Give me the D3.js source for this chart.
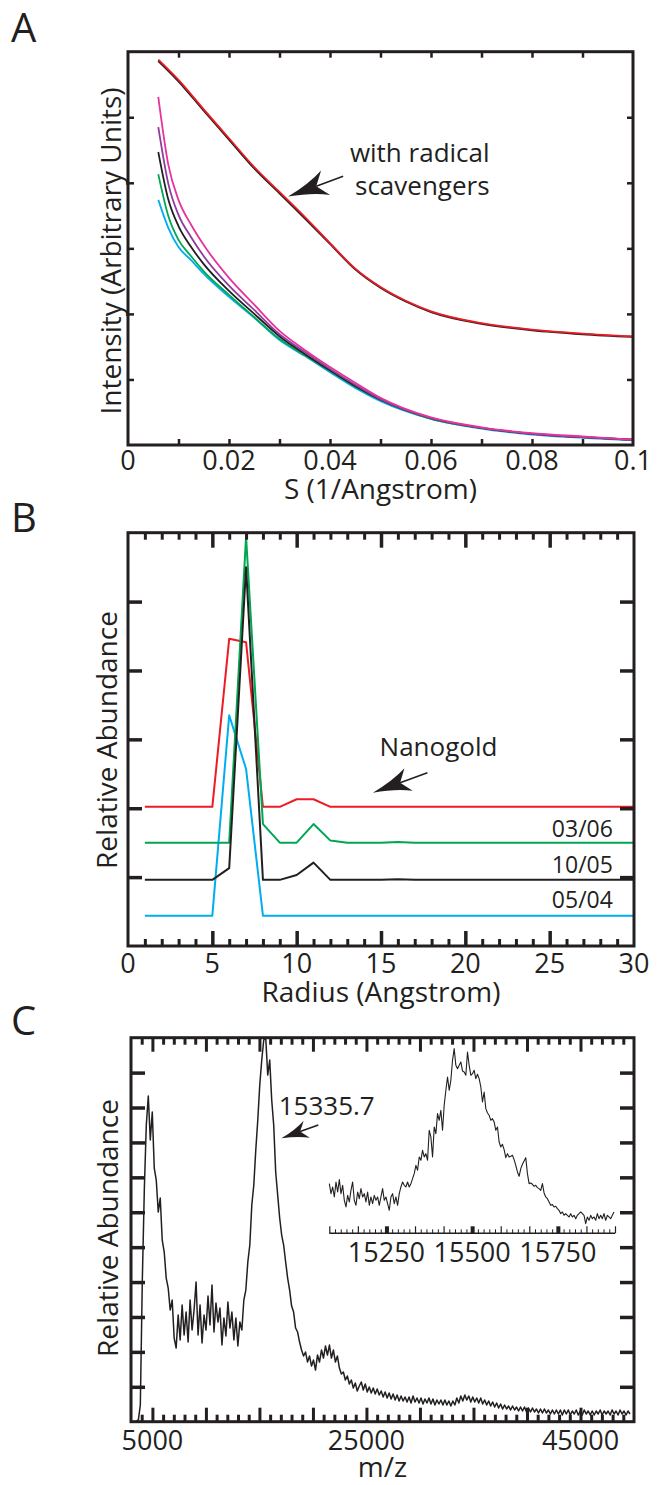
<!DOCTYPE html>
<html>
<head>
<meta charset="utf-8">
<script src="https://cdn.jsdelivr.net/npm/d3@7"></script>
<style>
	body { margin: 0; background: #fff; }
	text { font-family: "Open Sans", sans-serif; fill: #231f20; }
</style>
</head>
<body>
<div id="g-container"></div>
<script>
	// ---- panel A: scattering curves ----
	var sGrid = [0.006, 0.008, 0.01, 0.0125, 0.015, 0.02, 0.025, 0.03, 0.035, 0.04, 0.045, 0.05, 0.06, 0.07, 0.08, 0.09, 0.1]
	var cyanA   = [3.74, 3.31, 3.02, 2.82, 2.61, 2.26, 1.94, 1.60, 1.36, 1.11, 0.87, 0.67, 0.40, 0.25, 0.16, 0.11, 0.07]
	var greenA  = [4.13, 3.49, 3.13, 2.88, 2.65, 2.29, 1.95, 1.62, 1.37, 1.13, 0.89, 0.69, 0.40, 0.26, 0.17, 0.12, 0.08]
	var blackA  = [4.47, 3.74, 3.34, 3.02, 2.76, 2.35, 2.00, 1.66, 1.39, 1.14, 0.90, 0.69, 0.41, 0.26, 0.17, 0.12, 0.08]
	var purpleA = [4.85, 3.98, 3.51, 3.17, 2.88, 2.43, 2.06, 1.69, 1.42, 1.16, 0.92, 0.70, 0.41, 0.26, 0.17, 0.12, 0.08]
	var pinkA   = [5.31, 4.27, 3.74, 3.36, 3.05, 2.55, 2.14, 1.74, 1.45, 1.19, 0.95, 0.72, 0.42, 0.27, 0.18, 0.13, 0.08]

	var sScav = [0.006, 0.01, 0.015, 0.02, 0.025, 0.03, 0.035, 0.04, 0.045, 0.05, 0.055, 0.06, 0.07, 0.08, 0.09, 0.1]
	var scavBlack = [5.86, 5.55, 5.10, 4.66, 4.22, 3.84, 3.46, 3.07, 2.68, 2.40, 2.19, 2.03, 1.85, 1.75, 1.69, 1.65]
	var scavRed   = [5.88, 5.57, 5.12, 4.68, 4.24, 3.86, 3.48, 3.08, 2.69, 2.41, 2.20, 2.04, 1.86, 1.76, 1.70, 1.655]

	var xLabelsA = [0, 0.02, 0.04, 0.06, 0.08, 0.1]

	// ---- panel B: size distributions ----
	var radius = d3.range(1, 31)
	var redB   = [2.02, 2.02, 2.02, 2.02, 2.02, 4.46, 4.41, 2.02, 2.02, 2.13, 2.13, 2.02, 2.02, 2.02, 2.02, 2.02, 2.02, 2.02, 2.02, 2.02, 2.02, 2.02, 2.02, 2.02, 2.02, 2.02, 2.02, 2.02, 2.02, 2.02]
	var greenB = [1.50, 1.50, 1.50, 1.50, 1.50, 1.50, 5.94, 1.77, 1.50, 1.50, 1.77, 1.53, 1.50, 1.50, 1.50, 1.51, 1.50, 1.50, 1.50, 1.50, 1.50, 1.50, 1.50, 1.50, 1.50, 1.50, 1.50, 1.50, 1.50, 1.50]
	var blackB = [0.96, 0.96, 0.96, 0.96, 0.96, 1.13, 5.50, 0.96, 0.96, 1.03, 1.21, 0.96, 0.96, 0.96, 0.96, 0.97, 0.96, 0.96, 0.96, 0.96, 0.96, 0.96, 0.96, 0.96, 0.96, 0.96, 0.96, 0.96, 0.96, 0.96]
	var cyanB  = [0.44, 0.44, 0.44, 0.44, 0.44, 3.35, 2.57, 0.44, 0.44, 0.44, 0.44, 0.44, 0.44, 0.44, 0.44, 0.44, 0.44, 0.44, 0.44, 0.44, 0.44, 0.44, 0.44, 0.44, 0.44, 0.44, 0.44, 0.44, 0.44, 0.44]
	var xLabelsB = [0, 5, 10, 15, 20, 25, 30]
	var datesB = [["03/06", 1.587], ["10/05", 1.064], ["05/04", 0.547]]

	// ---- panel C: mass spectrum ----
	var mzStart = 3500, mzStep = 186
	var mainI = [2, 5, 50, 425, 695, 890, 977, 845, 929, 761,
		725, 629, 671, 545, 509, 431, 401, 335, 365, 251,
		221, 320, 245, 350, 260, 329, 239, 365, 275, 335,
		419, 260, 350, 236, 320, 275, 377, 290, 410, 269,
		356, 299, 341, 230, 311, 257, 359, 281, 329, 245,
		311, 227, 299, 275, 365, 395, 479, 530, 650, 710,
		815, 905, 1010, 1085, 1145, 1151, 1040, 1085, 965, 890,
		749, 680, 611, 560, 530, 479, 431, 395, 347, 329,
		281, 269, 239, 215, 197, 209, 179, 197, 167, 185,
		155, 200, 179, 215, 191, 227, 200, 230, 191, 215,
		179, 197, 161, 143, 149, 125, 137, 113, 125, 101,
		116, 92, 107, 119, 95, 113, 89, 104, 86, 101,
		83, 98, 80, 92, 74, 89, 71, 86, 68, 83,
		65, 80, 62, 77, 62, 74, 59, 74, 56, 77,
		59, 71, 56, 71, 53, 68, 56, 71, 53, 68,
		50, 65, 53, 65, 50, 65, 50, 62, 47, 62,
		50, 71, 56, 77, 62, 80, 65, 77, 59, 74,
		59, 71, 56, 71, 53, 65, 50, 62, 47, 59,
		44, 56, 41, 53, 38, 50, 38, 47, 35, 47,
		35, 44, 32, 44, 32, 44, 29, 41, 29, 41,
		29, 38, 26, 38, 26, 38, 26, 35, 23, 35,
		23, 35, 23, 35, 20, 35, 23, 35, 20, 32,
		23, 35, 20, 32, 20, 35, 23, 32, 20, 32,
		20, 32, 23, 35, 20, 32, 23, 32, 20, 35,
		23, 32, 20, 35, 23, 32, 20, 32, 23]
	var xLabelsC = [5000, 25000, 45000]

	// inset, zoom on the 15.3 kDa peak
	var insetStart = 15083.4, insetStep = 4.856
	var insetI = [149, 119, 139, 109, 154, 124, 161, 119, 144, 99,
		79, 114, 94, 129, 154, 99, 84, 124, 104, 134,
		109, 119, 94, 124, 84, 109, 89, 114, 99, 109,
		84, 109, 134, 99, 109, 89, 69, 109, 119, 89,
		109, 84, 119, 139, 154, 144, 139, 154, 139, 149,
		164, 179, 204, 189, 229, 219, 249, 229, 239, 219,
		309, 289, 229, 319, 299, 359, 339, 369, 309, 384,
		429, 469, 429, 459, 519, 554, 504, 494, 504, 514,
		487, 484, 474, 544, 504, 474, 479, 489, 464, 477,
		464, 439, 394, 424, 374, 361, 354, 339, 344, 334,
		309, 319, 274, 259, 267, 251, 227, 239, 229, 231,
		234, 221, 204, 184, 171, 194, 207, 217, 227, 179,
		149, 151, 147, 141, 144, 137, 134, 129, 149, 121,
		109, 104, 94, 84, 86, 79, 81, 74, 69, 59,
		64, 54, 59, 54, 49, 59, 49, 54, 44, 54,
		59, 64, 59, 54, 29, 49, 39, 54, 44, 49,
		39, 59, 44, 54, 44, 59, 39, 54, 49, 44,
		54, 64]
	var insetLabels = [15250, 15500, 15750]

	var ink = "#231f20"

	var svg = d3.select("#g-container").append("svg").attr("width", 663).attr("height", 1485)

	// draws inner ticks on one side of a frame with a d3 axis
	function tickSide(axisFn, scale, values, at, len, width){
		var g = svg.append("g")
		var isH = (axisFn == d3.axisBottom || axisFn == d3.axisTop)
		g.attr("transform", isH ? "translate(0," + at + ")" : "translate(" + at + ",0)")
		g.call(axisFn(scale).tickValues(values).tickSizeInner(-len).tickSizeOuter(0).tickFormat(""))
		g.select(".domain").remove()
		g.selectAll("line").attr("stroke", ink).attr("stroke-width", width)
		g.selectAll("text").remove()
		return g
	}

	function frame(x, y){
		svg.append("rect")
			.attr("x", x.range()[0]).attr("y", y.range()[1])
			.attr("width", x.range()[1] - x.range()[0])
			.attr("height", y.range()[0] - y.range()[1])
			.attr("fill", "none").attr("stroke", ink).attr("stroke-width", 3)
	}

	function labelsX(x, values, baseline, fmt){
		svg.append("g").selectAll("text").data(values).enter().append("text")
			.attr("x", function(d){ return x(d) })
			.attr("y", baseline)
			.attr("text-anchor", "middle")
			.style("font-size", "27px")
			.text(fmt)
	}

	function titleX(x, txt, baseline){
		svg.append("text").attr("x", (x.range()[0] + x.range()[1]) / 2).attr("y", baseline)
			.attr("text-anchor", "middle").style("font-size", "28px").text(txt)
	}

	function titleY(txt, bx, cy){
		svg.append("text").attr("transform", "translate(" + bx + "," + cy + ") rotate(-90)")
			.attr("text-anchor", "middle").style("font-size", "28px").text(txt)
	}

	function panelLetter(txt, baseline){
		svg.append("text").attr("x", 11).attr("y", baseline).style("font-size", "40px").text(txt)
	}

	// arrow: tip and tail in data units, head size in px
	function arrow(x, y, tip, tail, len, half, notch){
		var tx = x(tip[0]), ty = y(tip[1]), ex = x(tail[0]), ey = y(tail[1])
		var dx = ex - tx, dy = ey - ty, l = Math.sqrt(dx * dx + dy * dy)
		var ux = dx / l, uy = dy / l, nx = -uy, ny = ux
		var bx = tx + ux * (len - notch), by = ty + uy * (len - notch)
		svg.append("line").attr("x1", bx).attr("y1", by).attr("x2", ex).attr("y2", ey)
			.attr("stroke", ink).attr("stroke-width", 1.6)
		var p = d3.path()
		p.moveTo(tx, ty)
		p.quadraticCurveTo(tx + ux * len * 0.6 + nx * half * 0.35, ty + uy * len * 0.6 + ny * half * 0.35, tx + ux * len + nx * half, ty + uy * len + ny * half)
		p.lineTo(bx, by)
		p.lineTo(tx + ux * len - nx * half, ty + uy * len - ny * half)
		p.quadraticCurveTo(tx + ux * len * 0.6 - nx * half * 0.35, ty + uy * len * 0.6 - ny * half * 0.35, tx, ty)
		p.closePath()
		svg.append("path").attr("d", p.toString()).attr("fill", ink)
	}

	function series(x, y, xs, ys, color, width, curve){
		var line = d3.line().x(function(d){ return x(d[0]) }).y(function(d){ return y(d[1]) })
		if(curve){ line.curve(curve) }
		svg.append("path").datum(xs.map(function(v, i){ return [v, ys[i]] }))
			.attr("d", line).attr("fill", "none").attr("stroke", color)
			.attr("stroke-width", width).attr("stroke-linejoin", "round")
	}

	// ================= A =================
	var xA = d3.scaleLinear().domain([0, 0.1]).range([128, 633])
	var yA = d3.scaleLinear().domain([0, 6]).range([445, 51.7])

	series(xA, yA, sGrid, cyanA, "#00aeef", 1.8, d3.curveMonotoneX)
	series(xA, yA, sGrid, greenA, "#00a651", 1.8, d3.curveMonotoneX)
	series(xA, yA, sGrid, blackA, ink, 1.8, d3.curveMonotoneX)
	series(xA, yA, sGrid, purpleA, "#8e3d9e", 1.8, d3.curveMonotoneX)
	series(xA, yA, sGrid, pinkA, "#e6349a", 1.8, d3.curveMonotoneX)
	series(xA, yA, sScav, scavBlack, ink, 2, d3.curveMonotoneX)
	series(xA, yA, sScav, scavRed, "#ed1c24", 1.8, d3.curveMonotoneX)

	var aTicks = d3.range(1, 10).map(function(i){ return i / 100 })
	tickSide(d3.axisBottom, xA, aTicks, 445, 6, 2.5)
	tickSide(d3.axisTop, xA, aTicks, 51.7, 6, 2.5)
	tickSide(d3.axisLeft, yA, [1, 2, 3, 4, 5], 128, 6, 2.5)
	tickSide(d3.axisRight, yA, [1, 2, 3, 4, 5], 633, 6, 2.5)
	frame(xA, yA)
	labelsX(xA, xLabelsA, 470, function(d){ return d3.format("")(d) })
	titleX(xA, "S (1/Angstrom)", 499)
	titleY("Intensity (Arbitrary Units)", 121, 251)
	panelLetter("A", 42)

	svg.append("text").attr("x", xA(0.0716)).attr("y", yA(4.32)).attr("text-anchor", "end")
		.style("font-size", "26px").text("with radical")
	svg.append("text").attr("x", xA(0.0716)).attr("y", yA(3.81)).attr("text-anchor", "end")
		.style("font-size", "26px").text("scavengers")
	arrow(xA, yA, [0.0317, 3.79], [0.0426, 4.10], 40, 13, 10)

	// ================= B =================
	var xB = d3.scaleLinear().domain([0, 30]).range([128, 634])
	var yB = d3.scaleLinear().domain([0, 6]).range([946, 532.7])

	series(xB, yB, radius, redB, "#ed1c24", 2)
	series(xB, yB, radius, cyanB, "#00aeef", 2)
	series(xB, yB, radius, greenB, "#00a651", 2)
	series(xB, yB, radius, blackB, ink, 2)

	var bMinor = d3.range(1, 30).filter(function(d){ return d % 5 != 0 })
	var bMajor = [5, 10, 15, 20, 25]
	tickSide(d3.axisBottom, xB, bMinor, 946, 7, 3)
	tickSide(d3.axisBottom, xB, bMajor, 946, 15, 3.5)
	tickSide(d3.axisTop, xB, bMinor, 532.7, 7, 3)
	tickSide(d3.axisTop, xB, bMajor, 532.7, 15, 3.5)
	tickSide(d3.axisLeft, yB, [1, 2, 3, 4, 5], 128, 14, 3.5)
	tickSide(d3.axisRight, yB, [1, 2, 3, 4, 5], 634, 14, 3.5)
	frame(xB, yB)
	labelsX(xB, xLabelsB, 973, function(d){ return d })
	titleX(xB, "Radius (Angstrom)", 1002)
	titleY("Relative Abundance", 117, 740)
	panelLetter("B", 532)

	svg.append("text").attr("x", xB(18.41)).attr("y", yB(2.758)).attr("text-anchor", "middle")
		.style("font-size", "26px").text("Nanogold")
	arrow(xB, yB, [14.52, 2.226], [17.75, 2.516], 38, 12, 9)
	svg.append("g").selectAll("text").data(datesB).enter().append("text")
		.attr("x", xB(28.75)).attr("y", function(d){ return yB(d[1]) })
		.attr("text-anchor", "end").style("font-size", "23px")
		.text(function(d){ return d[0] })

	// ================= C =================
	var xC = d3.scaleLinear().domain([3000, 50000]).range([131, 634])
	var yC = d3.scaleLinear().domain([0, 1152]).range([1421.7, 1037.7])

	var mainMz = mainI.map(function(v, i){ return mzStart + mzStep * i })
	series(xC, yC, mainMz, mainI, ink, 1.5)

	var cMinor = d3.range(4000, 50000, 1000).filter(function(d){ return d % 5000 != 0 })
	var cMajor = d3.range(5000, 50000, 5000)
	var cY = d3.range(1, 11).map(function(i){ return i * 1152 / 11 })
	tickSide(d3.axisBottom, xC, cMinor, 1421.7, 7, 3)
	tickSide(d3.axisBottom, xC, cMajor, 1421.7, 14, 3)
	tickSide(d3.axisTop, xC, cMinor, 1037.7, 7, 3)
	tickSide(d3.axisTop, xC, cMajor, 1037.7, 14, 3)
	tickSide(d3.axisLeft, yC, cY, 131, 14, 3.5)
	tickSide(d3.axisRight, yC, cY, 634, 14, 3.5)
	frame(xC, yC)
	labelsX(xC, xLabelsC, 1450, function(d){ return d })
	titleX(xC, "m/z", 1477)
	titleY("Relative Abundance", 118, 1228)
	panelLetter("C", 1035)

	svg.append("text").attr("x", xC(16800)).attr("y", yC(920)).style("font-size", "26px").text("15335.7")
	arrow(xC, yC, [17047, 850], [20505, 890], 27, 9, 7)

	// inset
	var xI = d3.scaleLinear().domain([15083.3, 15916.7]).range([329.3, 615])
	var yI = d3.scaleLinear().domain([0, 549]).range([1233.3, 1050.3])
	var insetMz = insetI.map(function(v, i){ return insetStart + insetStep * i })
	series(xI, yI, insetMz, insetI, ink, 1.1)

	var iTicks = d3.range(0, 51).map(function(k){ return 15083.333 + k * 250 / 15 })
	svg.append("line").attr("x1", xI.range()[0]).attr("x2", xI.range()[1])
		.attr("y1", 1233.3).attr("y2", 1233.3).attr("stroke", ink).attr("stroke-width", 1.5)
	tickSide(d3.axisBottom, xI, iTicks.filter(function(d, k){ return k % 5 != 0 }), 1233.3, 4, 1)
	tickSide(d3.axisBottom, xI, iTicks.filter(function(d, k){ return k % 5 == 0 && (k - 10) % 15 != 0 }), 1233.3, 7, 1.2)
	tickSide(d3.axisBottom, xI, insetLabels, 1233.3, 7, 4)
	labelsX(xI, insetLabels, 1262, function(d){ return d })
</script>
</body>
</html>
